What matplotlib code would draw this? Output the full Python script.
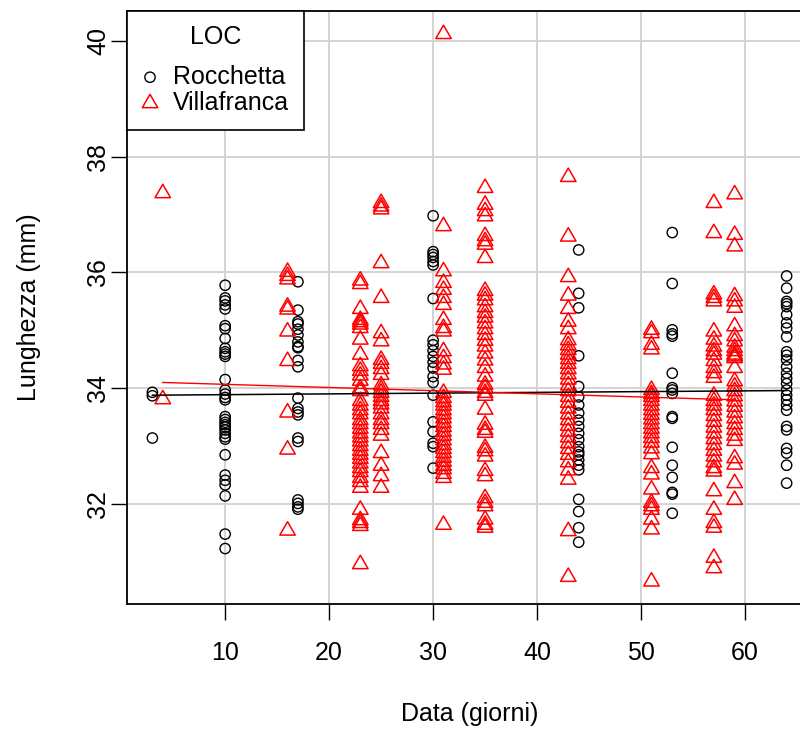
import matplotlib.pyplot as plt
import numpy as np
from matplotlib.path import Path

plt.rcParams['font.family'] = ['Liberation Sans', 'DejaVu Sans']

# Rocchetta (circles): sampling day and lengths (mm)
roc_days = [3, 10, 17, 30, 44, 53, 64]
roc_vals = [
    [33.93, 33.87, 33.14],
    [35.78, 35.56, 35.51, 35.44, 35.37, 35.08, 35.03, 34.86, 34.69, 34.63, 34.59,
     34.55, 34.15, 33.97, 33.90, 33.84, 33.80, 33.51, 33.46, 33.41, 33.37, 33.33,
     33.28, 33.22, 33.16, 33.12, 32.85, 32.50, 32.41, 32.33, 32.14, 31.48, 31.23],
    [35.84, 35.35, 35.15, 35.11, 35.02, 34.92, 34.80, 34.72, 34.70, 34.48, 34.37,
     33.83, 33.65, 33.59, 33.54, 33.14, 33.08, 32.07, 32.01, 31.95, 31.91],
    [36.98, 36.36, 36.31, 36.26, 36.19, 36.13, 35.55, 34.83, 34.75, 34.65, 34.55,
     34.45, 34.35, 34.20, 34.10, 33.88, 33.42, 33.25, 33.05, 32.99, 32.62],
    [36.39, 35.64, 35.39, 34.56, 34.03, 33.85, 33.71, 33.57, 33.45, 33.34, 33.22,
     33.11, 32.99, 32.90, 32.85, 32.76, 32.67, 32.59, 32.08, 31.87, 31.59, 31.34],
    [36.69, 35.81, 35.01, 34.94, 34.90, 34.26, 34.01, 33.97, 33.91, 33.51, 33.48,
     32.98, 32.67, 32.46, 32.20, 32.17, 31.84],
    [35.94, 35.73, 35.50, 35.46, 35.41, 35.27, 35.13, 35.04, 34.89, 34.63, 34.57,
     34.49, 34.37, 34.26, 34.17, 34.08, 33.97, 33.88, 33.80, 33.71, 33.62, 33.34,
     33.28, 32.96, 32.88, 32.67, 32.36],
]

# Villafranca (triangles)
vil_days = [4, 16, 23, 25, 31, 35, 43, 51, 57, 59]
vil_vals = [
    [37.37, 33.81],
    [36.01, 35.94, 35.88, 35.41, 35.36, 34.98, 34.47, 33.58, 32.94, 31.54],
    [35.86, 35.80, 35.37, 35.18, 35.14, 35.10, 35.04, 34.84, 34.58, 34.38, 34.30,
     34.22, 34.13, 34.00, 33.95, 33.78, 33.70, 33.62, 33.55, 33.45, 33.38, 33.30,
     33.22, 33.15, 33.08, 33.00, 32.92, 32.85, 32.78, 32.70, 32.62, 32.55, 32.45,
     32.38, 32.28, 31.90, 31.72, 31.67, 31.62, 30.96],
    [37.20, 37.14, 37.09, 36.16, 35.56, 34.95, 34.81, 34.49, 34.42, 34.33, 34.23,
     34.05, 33.98, 33.92, 33.85, 33.78, 33.72, 33.65, 33.55, 33.45, 33.38, 33.28,
     33.18, 32.88, 32.66, 32.48, 32.28],
    [40.12, 36.80, 36.02, 35.82, 35.70, 35.56, 35.44, 35.18, 35.04, 34.98, 34.64,
     34.52, 34.41, 34.32, 33.92, 33.83, 33.76, 33.70, 33.62, 33.55, 33.48, 33.40,
     33.33, 33.25, 33.18, 33.10, 33.02, 32.95, 32.88, 32.80, 32.73, 32.66, 32.60,
     32.52, 32.45, 31.64],
    [37.46, 37.17, 37.06, 36.97, 36.63, 36.54, 36.48, 36.25, 35.68, 35.60, 35.52,
     35.40, 35.30, 35.22, 35.12, 35.02, 34.92, 34.82, 34.72, 34.60, 34.48, 34.35,
     34.20, 34.06, 34.00, 33.92, 33.87, 33.63, 33.37, 33.28, 33.23, 32.97, 32.91,
     32.82, 32.57, 32.48, 32.10, 32.02, 31.96, 31.73, 31.64, 31.59],
    [37.65, 36.62, 35.92, 35.60, 35.37, 35.15, 35.02, 34.83, 34.74, 34.66, 34.58,
     34.50, 34.42, 34.33, 34.24, 34.15, 34.05, 33.95, 33.85, 33.75, 33.65, 33.55,
     33.45, 33.35, 33.25, 33.15, 33.05, 32.95, 32.85, 32.72, 32.58, 32.42, 31.53,
     30.74],
    [35.01, 34.95, 34.75, 34.67, 33.97, 33.90, 33.85, 33.78, 33.70, 33.62, 33.54,
     33.46, 33.38, 33.30, 33.22, 33.14, 33.06, 32.96, 32.86, 32.62, 32.51, 32.25,
     32.02, 31.96, 31.90, 31.73, 31.56, 30.66],
    [37.20, 36.68, 35.62, 35.56, 35.50, 34.98, 34.84, 34.72, 34.64, 34.58, 34.47,
     34.35, 34.26, 34.18, 33.87, 33.78, 33.70, 33.62, 33.52, 33.42, 33.32, 33.22,
     33.12, 33.02, 32.92, 32.82, 32.72, 32.62, 32.56, 32.22, 31.90, 31.67, 31.59,
     31.07, 30.89],
    [37.35, 36.65, 36.45, 35.59, 35.50, 35.39, 35.07, 34.90, 34.81, 34.70, 34.64,
     34.58, 34.55, 34.52, 34.35, 34.12, 34.03, 33.95, 33.86, 33.77, 33.68, 33.58,
     33.48, 33.38, 33.28, 33.18, 33.09, 32.79, 32.68, 32.36, 32.07],
]

# fitted regression lines
roc_fit_x = [3, 64]
roc_fit_y = [33.88, 33.96]
vil_fit_x = [4, 59]
vil_fit_y = [34.10, 33.80]

xticks = [10, 20, 30, 40, 50, 60]
yticks = [32, 34, 36, 38, 40]


def flatten(days, vals):
    xs, ys = [], []
    for d, v in zip(days, vals):
        xs += [d] * len(v)
        ys += v
    return np.array(xs), np.array(ys)


rx, ry = flatten(roc_days, roc_vals)
vx, vy = flatten(vil_days, vil_vals)

# R-style triangle, centred on its centroid
tri = Path([(0, 1), (-0.866, -0.5), (0.866, -0.5), (0, 1)],
           [Path.MOVETO, Path.LINETO, Path.LINETO, Path.CLOSEPOLY])

fig = plt.figure(figsize=(8, 7.29), dpi=100)
ax = fig.add_axes([127 / 800, 125 / 729, 685 / 800, 593.5 / 729])

ax.grid(True, color='#d3d3d3', linewidth=1.4)
ax.set_axisbelow(True)

ax.scatter(rx, ry, s=55, marker='o', facecolors='none', edgecolors='black',
           linewidths=1.0, label='Rocchetta', zorder=3)
ax.scatter(vx, vy, s=165, marker=tri, facecolors='none', edgecolors='red',
           linewidths=1.1, label='Villafranca', zorder=3)

ax.plot(roc_fit_x, roc_fit_y, color='black', linewidth=1.1, zorder=4)
ax.plot(vil_fit_x, vil_fit_y, color='red', linewidth=1.0, zorder=4)

ax.set_xlim(0.56, 66.44)
ax.set_ylim(30.272, 40.527)
ax.set_xticks(xticks)
ax.set_yticks(yticks)
ax.tick_params(axis='both', length=11.5, width=1.0, labelsize=18)
ax.tick_params(axis='x', pad=15.5)
ax.tick_params(axis='y', pad=0.5)
for lab in ax.get_yticklabels():
    lab.set_rotation(90)
    lab.set_va('center')

for sp in ax.spines.values():
    sp.set_linewidth(1.3)

ax.set_xlabel('Data (giorni)', fontsize=18)
ax.set_ylabel('Lunghezza (mm)', fontsize=18)
ax.xaxis.set_label_coords(0.5, -0.165)
ax.yaxis.set_label_coords(-0.1255, 0.5)

leg = ax.legend(title='LOC', loc='upper left', borderaxespad=0, fancybox=False,
                edgecolor='black', framealpha=1, fontsize=18, title_fontsize=18,
                scatterpoints=1, handlelength=0.64, handletextpad=0.6,
                borderpad=0.6, labelspacing=0.08)
leg._legend_box.sep = 11
leg.get_frame().set_linewidth(1.2)

fig.savefig('out.png', dpi=100)
